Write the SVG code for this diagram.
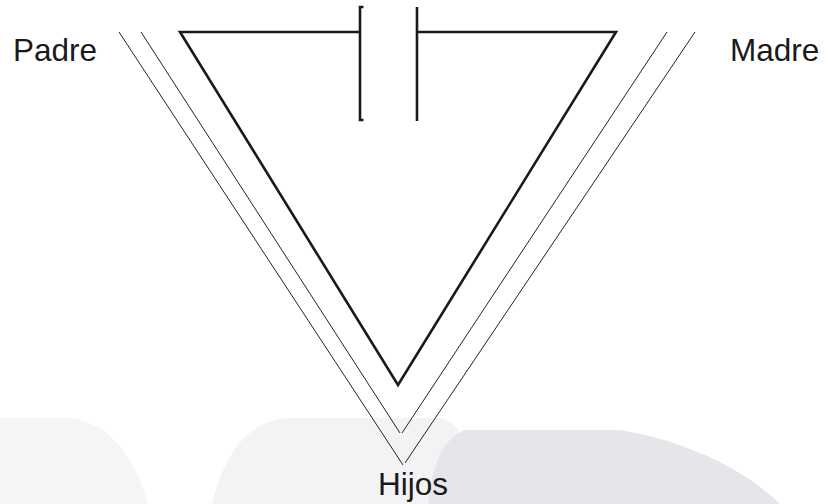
<svg xmlns="http://www.w3.org/2000/svg" width="825" height="504" viewBox="0 0 825 504">
  <style>
    .lbl { font-family: "Liberation Sans", Arial, sans-serif; font-size: 31.5px; fill: #1a1a1a; }
    .thin { fill: none; stroke: #222; stroke-width: 1; }
    .thick { fill: none; stroke: #1a1a1a; stroke-width: 2.6; stroke-linejoin: miter; }
  </style>
  <rect width="825" height="504" fill="#ffffff"/>
  <g id="background">
    <path d="M0,418 H70 Q125,425 148,504 H0 Z" fill="#f4f5f7"/>
    <path d="M212,504 Q232,420 290,418 H440 Q452,420 458,430 V504 Z" fill="#f3f3f5"/>
    <path d="M428,504 C432,470 440,440 465,430 H620 C680,440 740,465 780,504 Z" fill="#e5e5ea"/>
  </g>
  <g id="connectors">
    <line class="thin" x1="119" y1="32" x2="403" y2="465"/>
    <line class="thin" x1="141" y1="32" x2="400" y2="433"/>
    <line class="thin" x1="667" y1="32" x2="402" y2="433"/>
    <line class="thin" x1="695" y1="32" x2="405" y2="463"/>
    <polyline class="thick" points="360,32 180,32 398,385 616,32 417,32"/>
    <path class="thick" d="M363.5,7 H360 V120 H363.5"/>
    <path class="thick" d="M417,7 V121"/>
  </g>
  <g id="padre">
    <text class="lbl" x="13" y="61">Padre</text>
  </g>
  <g id="madre">
    <text class="lbl" x="730" y="61">Madre</text>
  </g>
  <g id="hijos">
    <text class="lbl" x="378" y="495">Hijos</text>
  </g>
</svg>
